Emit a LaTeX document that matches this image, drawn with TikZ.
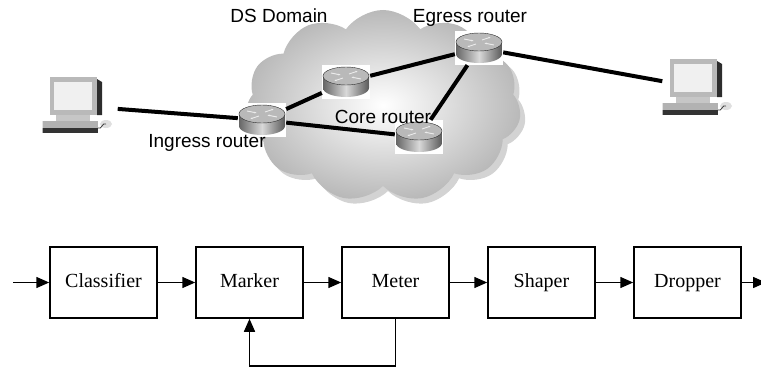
\documentclass[tikz,border=0pt]{standalone}
\usepackage{fontspec}
\setmainfont{Liberation Serif}
\newfontfamily\labelfont{Liberation Sans}
\usetikzlibrary{shapes.geometric, shapes.symbols, arrows.meta, positioning, shadows}

\begin{document}
\begin{tikzpicture}[x=1pt, y=-1pt,
  box/.style={rectangle, draw=black, line width=1.5pt,
    minimum width=107pt, minimum height=71pt,
    text height=14pt, text depth=4pt,
    font=\fontsize{20}{24}\selectfont},
  arr/.style={-{Triangle[length=13pt, width=11pt]}, line width=1.5pt},
  link/.style={line width=4pt, black},
  router/.style={rectangle, fill=white, minimum width=48pt, minimum height=34pt,
    inner sep=0pt,
    path picture={
      \begin{scope}[shift={(path picture bounding box.center)}]
        \path[left color=gray!80!black, right color=gray!70!black, middle color=gray!30]
          (-23,-6) -- (-23,6) arc[start angle=180, end angle=360, x radius=23pt, y radius=9pt]
          -- (23,-6) -- cycle;
        \path[fill=gray!55, draw=gray!35!black, line width=0.4pt]
          (0,-6) ellipse [x radius=23pt, y radius=9pt];
        \draw[white!85!gray, line width=0.9pt, -{Latex[length=2.5pt]}] (-15,-9) -- (-5,-7);
        \draw[white!85!gray, line width=0.9pt, -{Latex[length=2.5pt]}] (15,-3) -- (5,-5);
        \draw[white!85!gray, line width=0.9pt, -{Latex[length=2.5pt]}] (3,-8) -- (12,-11);
        \draw[white!85!gray, line width=0.9pt, -{Latex[length=2.5pt]}] (-3,-4) -- (-12,-1);
      \end{scope}}},
  lbl/.style={font=\labelfont\fontsize{19}{22}\selectfont, inner sep=1pt},
  pc/.style={minimum width=75pt, minimum height=62pt, inner sep=0pt,
    path picture={
      \begin{scope}[shift={(path picture bounding box.center)}]
        % monitor
        \fill[gray!55] (-30,-29) rectangle (17,9);
        \fill[gray!35!black] (17,-27) -- (22,-24) -- (22,9) -- (17,9) -- cycle;
        \fill[gray!12] (-26,-24) rectangle (12,4);
        % stand and keyboard
        \fill[gray!45] (-24,9) rectangle (10,15);
        \fill[gray!60] (-38,15) rectangle (18,22);
        \fill[gray!40!black] (-38,22) rectangle (18,27);
        % mouse
        \fill[gray!25] (26,18) ellipse (6pt and 4pt);
        \draw[gray!45!black, line width=0.8pt] (18,22) .. controls (22,24) and (22,16) .. (26,18);
      \end{scope}}},
  node distance=37.5pt
]
  \clip (0,0) rectangle (761,367);

  % DS domain cloud
  \node[cloud, cloud puffs=11, cloud puff arc=110, aspect=1.45,
    minimum width=276pt, minimum height=192pt,
    inner color=white, outer color=gray!55,
    drop shadow={shadow xshift=5pt, shadow yshift=-5pt, opacity=0.35}] (domain) at (383,106) {};

  % hosts and routers
  \node[pc] (hostA) at (80,106) {};
  \node[pc] (hostB) at (700,88) {};
  \node[router] (ingress) at (262,120) {};
  \node[router] (coreA) at (346,82) {};
  \node[router] (egress) at (479,48) {};
  \node[router] (coreB) at (419,137) {};

  \node[lbl] (domlbl) at (279,16) {DS Domain};
  \node[lbl] (eglbl) at (470,18) {Egress router};
  \node[lbl] (corelbl) at (383,117) {Core router};
  \node[lbl] (inlbl) at (207,143) {Ingress router};

  \draw[link] (hostA) -- (ingress);
  \draw[link] (ingress) -- (coreA);
  \draw[link] (ingress) -- (coreB);
  \draw[link] (coreA) -- (egress);
  \draw[link] (egress) -- (coreB);
  \draw[link] (egress) -- (hostB);

  % traffic conditioner chain
  \node[box] (classifier) at (103.5,282.5) {Classifier};
  \node[box, right=of classifier] (marker) {Marker};
  \node[box, right=of marker] (meter) {Meter};
  \node[box, right=of meter] (shaper) {Shaper};
  \node[box, right=of shaper] (dropper) {Dropper};
  \coordinate (in) at (13,282.5);
  \coordinate (out) at (766,282.5);

  \draw[arr] (in) -- (classifier);
  \draw[arr] (classifier) -- (marker);
  \draw[arr] (marker) -- (meter);
  \draw[arr] (meter) -- (shaper);
  \draw[arr] (shaper) -- (dropper);
  \draw[arr] (dropper) -- (out);
  \draw[arr] (meter.south) -- ++(0,47) -| (marker.south);
\end{tikzpicture}
\end{document}
